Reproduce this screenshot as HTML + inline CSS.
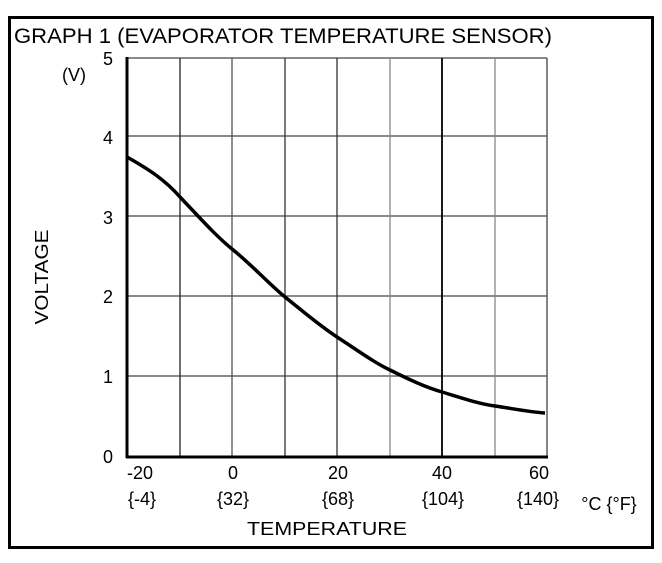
<!DOCTYPE html>
<html><head><style>body{margin:0;background:#fff}</style></head><body>
<svg width="662" height="558" xmlns="http://www.w3.org/2000/svg" font-family="Liberation Sans, Arial, sans-serif">
<rect width="662" height="558" fill="#fff"/>
<rect x="9.5" y="17.5" width="643" height="530" fill="none" stroke="#000" stroke-width="3"/>
<text x="14" y="43" font-size="21" textLength="538" lengthAdjust="spacingAndGlyphs">GRAPH 1 (EVAPORATOR TEMPERATURE SENSOR)</text>
<g stroke-width="1.3">
<line x1="127" y1="136" x2="547" y2="136" stroke="#444"/>
<line x1="127" y1="216" x2="547" y2="216" stroke="#444"/>
<line x1="127" y1="296" x2="547" y2="296" stroke="#444"/>
<line x1="127" y1="376" x2="547" y2="376" stroke="#444"/>
<line x1="127" y1="58" x2="547" y2="58" stroke="#444"/>
<line x1="180" y1="58" x2="180" y2="457" stroke="#222"/>
<line x1="232" y1="58" x2="232" y2="457" stroke="#555"/>
<line x1="285" y1="58" x2="285" y2="457" stroke="#333"/>
<line x1="337" y1="58" x2="337" y2="457" stroke="#333"/>
<line x1="390" y1="58" x2="390" y2="457" stroke="#888"/>
<line x1="442" y1="58" x2="442" y2="457" stroke="#000" stroke-width="1.8"/>
<line x1="495" y1="58" x2="495" y2="457" stroke="#888"/>
<line x1="547" y1="58" x2="547" y2="457" stroke="#444"/>
</g>
<line x1="127" y1="57" x2="127" y2="458" stroke="#000" stroke-width="3"/>
<line x1="126" y1="457" x2="548" y2="457" stroke="#000" stroke-width="3"/>
<path d="M127,157 C150,170 165,180 180,197 C200,218 215,235 232,249 C252,265 268,283 285,297 C305,313 320,326 337,337 C360,352 375,363 390,370 C410,380 425,387 442,392 C465,399 480,404 495,406 C515,409 530,412 545,413" fill="none" stroke="#000" stroke-width="3.5"/>
<g font-size="18" text-anchor="middle">
<text x="108" y="65">5</text><text x="108" y="144">4</text><text x="108" y="224">3</text>
<text x="108" y="303">2</text><text x="108" y="383">1</text><text x="108" y="463">0</text>
<text x="74" y="81">(V)</text>
<text x="140" y="479">-20</text><text x="233" y="479">0</text><text x="338" y="479">20</text>
<text x="442" y="479">40</text><text x="539" y="479">60</text>
<text x="142" y="505">{-4}</text><text x="233" y="505">{32}</text><text x="338" y="505">{68}</text>
<text x="443" y="505">{104}</text><text x="538" y="505">{140}</text>
<text x="609" y="510">°C {°F}</text>
<text x="327" y="535" textLength="160" lengthAdjust="spacingAndGlyphs">TEMPERATURE</text>
<text transform="translate(48,277) rotate(-90)" textLength="95" lengthAdjust="spacingAndGlyphs">VOLTAGE</text>
</g>
</svg>
</body></html>
